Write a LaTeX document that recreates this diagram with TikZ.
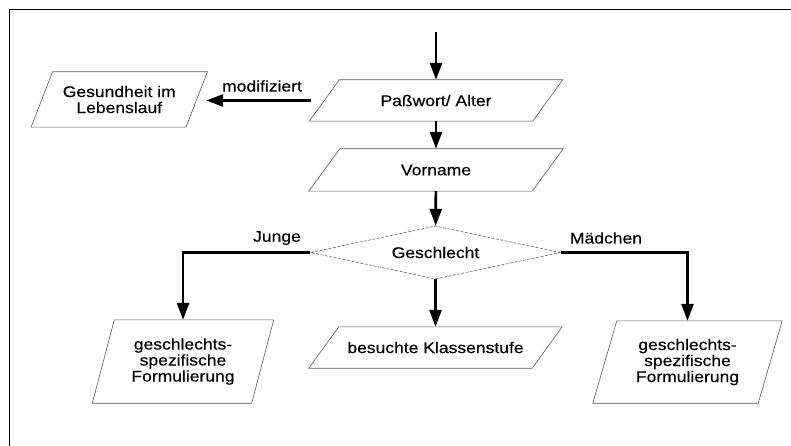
\documentclass[tikz,border=0pt]{standalone}
\usepackage{fontspec}
\setmainfont{Liberation Sans}[FakeStretch=1.13,FakeBold=0.35]
\usetikzlibrary{arrows.meta,shapes.geometric}

\tikzset{
  txt/.style={font=\fontsize{15.5pt}{16pt}\selectfont, text=black},
  iobox/.style={txt, draw=none, inner sep=0pt, align=center},
  decision/.style={txt, diamond, draw=black!70, dashed, dash pattern=on 3pt off 1.5pt,
    line width=0.5pt, shape aspect=4.7, inner sep=0pt},
  boxline/.style={draw=black!65, line width=0.6pt},
  flow/.style={line width=2.7pt, -{Triangle[length=17pt,width=12pt]}},
  lbl/.style={txt, inner sep=0pt},
}

% parallelogram outline around a node: top edge shifted right, bottom edge left
\newcommand\paraoutline[2]{%
  \draw[boxline] ([xshift=#2]#1.north west) -- ([xshift=#2]#1.north east)
    -- ([xshift=-#2]#1.south east) -- ([xshift=-#2]#1.south west) -- cycle;}

\begin{document}
\begin{tikzpicture}[x=1pt, y=-1pt]
  \useasboundingbox (0,0) rectangle (791,446);

  % frame
  \draw[line width=1.4pt] (9.5,446) -- (9.5,9.5) -- (791,9.5);

  % boxes
  \node[iobox, minimum width=223pt, minimum height=41pt] (pw) at (436,100.5) {Paßwort/ Alter};
  \node[iobox, minimum width=223pt, minimum height=42pt] (vn) at (436,170) {Vorname};
  \node[iobox, minimum width=154.5pt, minimum height=55pt] (gl) at (119.25,99.5) {Gesundheit im\\Lebenslauf};
  \node[decision, minimum width=250pt, minimum height=53pt] (gs) at (435.5,252.5) {Geschlecht};
  \node[iobox, minimum width=223pt, minimum height=41pt] (kl) at (435.5,347.5) {besuchte Klassenstufe};
  \node[iobox, minimum width=159pt, minimum height=83pt] (lb) at (183,361.5) {geschlechts-\\spezifische\\Formulierung};
  \node[iobox, minimum width=165pt, minimum height=82pt] (rb) at (687.5,362) {geschlechts-\\spezifische\\Formulierung};

  \paraoutline{pw}{15pt}
  \paraoutline{vn}{15.5pt}
  \paraoutline{gl}{10.75pt}
  \paraoutline{kl}{15pt}
  \paraoutline{lb}{11pt}
  \paraoutline{rb}{12pt}

  % labels
  \node[lbl] (lmod) at (262,86) {modifiziert};
  \node[lbl] (ljunge) at (277,238) {Junge};
  \node[lbl] (lmaed) at (606,238) {Mädchen};

  % connectors
  \coordinate (start) at (436,32);
  \draw[flow] (start) -- (pw);
  \draw[flow] (pw) -- (vn);
  \draw[flow] (vn) -- (gs);
  \draw[flow] (gs) -- (kl);
  \draw[flow] (gs.west) -| (lb.north);
  \draw[flow] (gs.east) -| (rb.north);
  \draw[flow, shorten <=13.5pt, shorten >=9.5pt] (pw.west) -- (gl.east |- pw.west);
\end{tikzpicture}
\end{document}
